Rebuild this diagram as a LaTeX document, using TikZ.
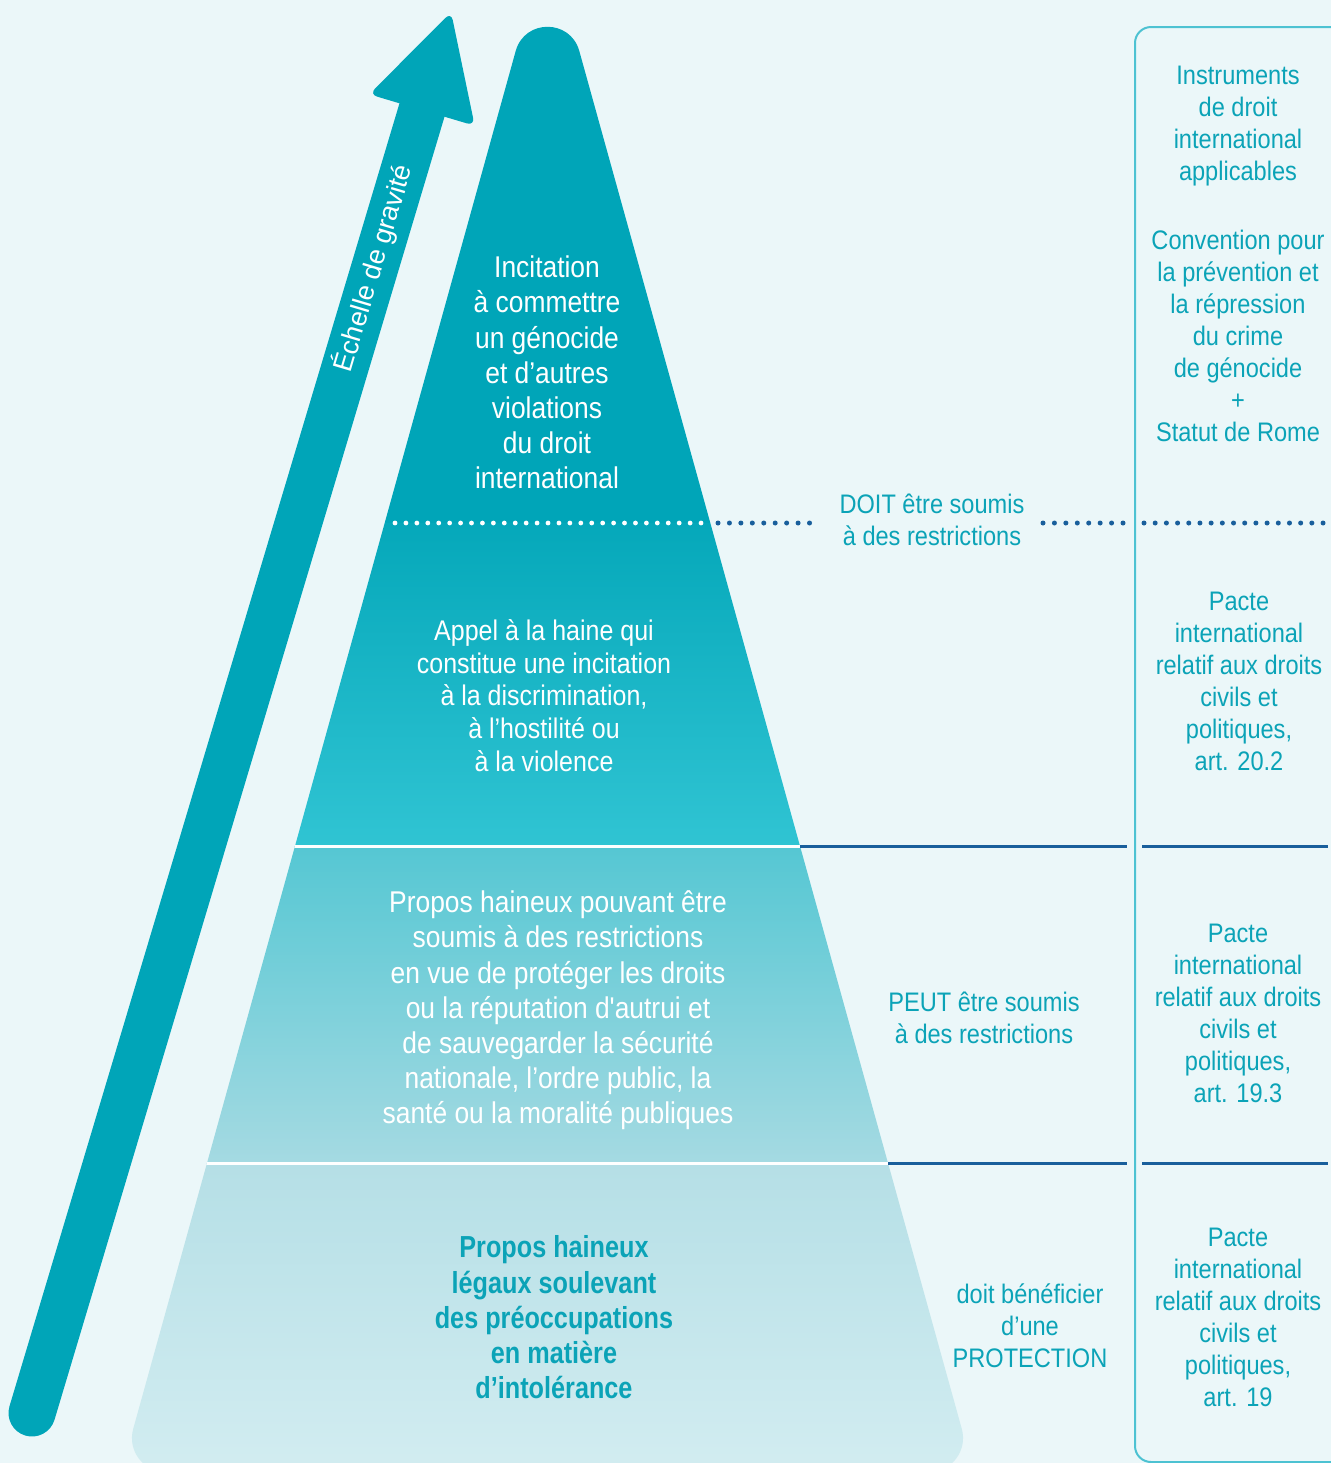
\documentclass[tikz,border=0pt]{standalone}
\usepackage{fontspec}
\setmainfont{Liberation Sans}
\newfontfamily\cond[FakeStretch=0.88,BoldFeatures={FakeStretch=0.83}]{Liberation Sans}
\definecolor{bgc}{HTML}{EBF7F9}
\definecolor{bandA}{HTML}{00A5B8}
\definecolor{bandBt}{HTML}{05A8BA}
\definecolor{bandBb}{HTML}{30C4D3}
\definecolor{bandCt}{HTML}{55C7D3}
\definecolor{bandCb}{HTML}{A5DAE2}
\definecolor{bandDt}{HTML}{B5DFE6}
\definecolor{bandDb}{HTML}{D3EDF1}
\definecolor{tealtxt}{HTML}{0BA3B7}
\definecolor{navy}{HTML}{195F9C}
\definecolor{boxc}{HTML}{4DC2D2}
\tikzset{
  whitetxt/.style={text=white, align=center, inner sep=0pt},
  tealnote/.style={text=tealtxt, align=center, inner sep=0pt, font=\cond\fontsize{13.4}{16}\selectfont},
  bigtxt/.style={font=\cond\fontsize{15}{17.6}\selectfont},
  sepline/.style={navy, line width=1.5pt},
}
\begin{document}
\begin{tikzpicture}[x=0.5pt,y=-0.5pt]
\useasboundingbox (0,0) rectangle (1331,1463);
\fill[bgc] (0,0) rectangle (1331,1463);

% pyramid
\begin{scope}
\clip (165.9,1472) -- (929.1,1472) .. controls (951.6,1472) and (967.8,1450.6) .. (961.8,1428.9)
  -- (579.3,51) .. controls (570.3,18.7) and (524.7,18.7) .. (515.7,51)
  -- (133.2,1428.9) .. controls (127.2,1450.6) and (143.4,1472) .. (165.9,1472) -- cycle;
\fill[bandA] (100,0) rectangle (1000,523);
\shade[top color=bandBt, bottom color=bandBb] (100,523) rectangle (1000,846);
\shade[top color=bandCt, bottom color=bandCb] (100,846) rectangle (1000,1163);
\shade[top color=bandDt, bottom color=bandDb] (100,1163) rectangle (1000,1480);
\draw[white, line width=1.5pt] (100,846) -- (1000,846);
\draw[white, line width=1.5pt] (100,1163) -- (1000,1163);
\foreach \i in {0,...,28} \fill[white] (395+\i*10.93,523) circle (1.2pt);
\end{scope}

% dotted and solid separators
\foreach \i in {0,...,8} \fill[navy] (718+\i*11.44,523) circle (1.25pt);
\foreach \i in {0,...,7} \fill[navy] (1043+\i*11.43,523) circle (1.25pt);
\foreach \i in {0,...,16} \fill[navy] (1144+\i*11.19,523) circle (1.25pt);
\draw[sepline] (800,846) -- (1127,846);
\draw[sepline] (1142,846) -- (1328,846);
\draw[sepline] (888,1163) -- (1127,1163);
\draw[sepline] (1142,1163) -- (1328,1163);

% right box
\draw[boxc, line width=1pt, rounded corners=8pt] (1345,27) -- (1135,27) -- (1135,1462) -- (1345,1462);

% arrow
\coordinate (arrS) at (32,1413);
\coordinate (arrB) at (422,110);
\draw[bandA, line width=23.5pt, line cap=round] (arrS) -- (arrB);
\fill[bandA, rounded corners=4pt] (369.3,94.3) -- (451.1,12.2) -- (474.7,125.7) -- cycle;
\node[rotate=73.4, text=white, inner sep=0pt, font=\fontsize{13.5}{16}\selectfont] (scale) at (373,268) {Échelle de gravité};

% pyramid texts
\node[whitetxt, bigtxt] (t1) at (547,372.5) {Incitation\\à commettre\\un génocide\\et d’autres\\violations\\du droit\\international};
\node[whitetxt, font=\cond\fontsize{14.2}{16.35}\selectfont] (t2) at (544,695.5) {Appel à la haine qui\\constitue une incitation\\à la discrimination,\\à l’hostilité ou\\à la violence};
\node[whitetxt, bigtxt] (t3) at (558,1010.5) {Propos haineux pouvant être\\soumis à des restrictions\\en vue de protéger les droits\\ou la réputation d'autrui et\\de sauvegarder la sécurité\\nationale, l’ordre public, la\\santé ou la moralité publiques};
\node[text=tealtxt, align=center, inner sep=0pt, font=\cond\bfseries\fontsize{15.2}{17.6}\selectfont] (t4) at (554,1317.5) {Propos haineux\\légaux soulevant\\des préoccupations\\en matière\\d’intolérance};

% middle notes
\node[tealnote] (n1) at (932,520) {DOIT être soumis\\à des restrictions};
\node[tealnote] (n2) at (984,1018) {PEUT être soumis\\à des restrictions};
\node[tealnote] (n3) at (1030,1326) {doit bénéficier\\d’une\\PROTECTION};

% right column
\node[tealnote] (r0) at (1238,126) {Instruments\\de droit\\international\\applicables};
\node[tealnote] (r1) at (1238,336) {Convention pour\\la prévention et\\la répression\\du crime\\de génocide\\+\\Statut de Rome};
\node[tealnote] (r2) at (1239,681) {Pacte\\international\\relatif aux droits\\civils et\\politiques,\\art. 20.2};
\node[tealnote] (r3) at (1238,1013) {Pacte\\international\\relatif aux droits\\civils et\\politiques,\\art. 19.3};
\node[tealnote] (r4) at (1238,1317) {Pacte\\international\\relatif aux droits\\civils et\\politiques,\\art. 19};
\end{tikzpicture}
\end{document}
